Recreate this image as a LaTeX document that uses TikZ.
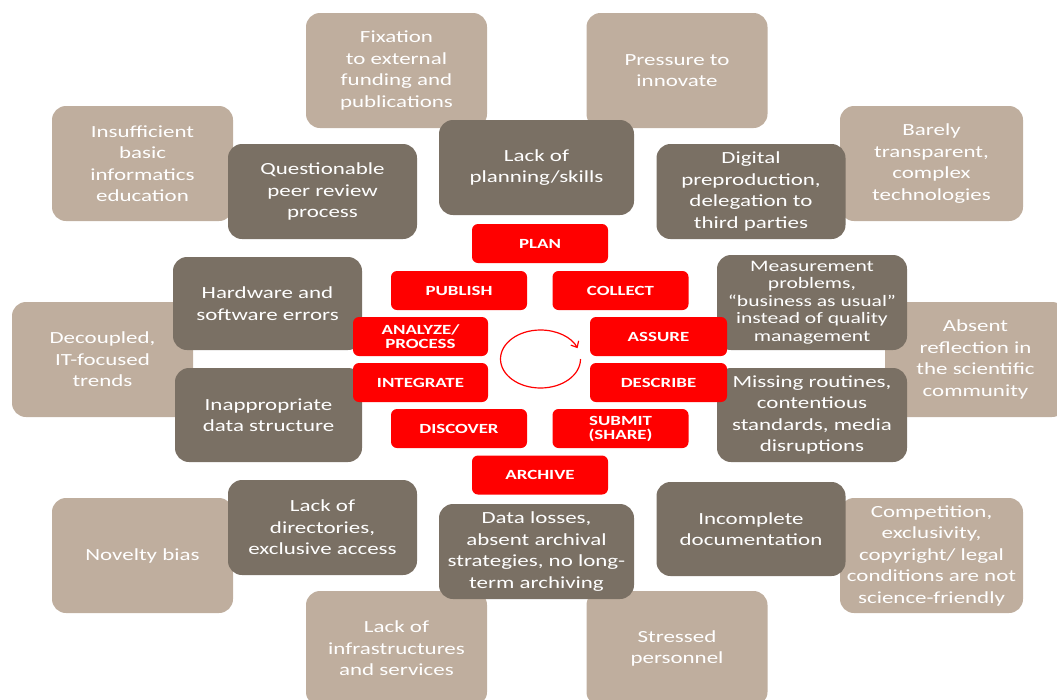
\documentclass[tikz,border=0pt]{standalone}
\usepackage{fontspec}
\setmainfont{Carlito}[FakeStretch=1.35]
\usetikzlibrary{arrows.meta}
\definecolor{tanc}{HTML}{BFAE9E}
\definecolor{darkc}{HTML}{7A7064}
\definecolor{redc}{HTML}{FF0000}
\tikzset{
  basebox/.style={rounded corners=14pt, text=white, align=center, inner sep=0pt,
    font=\fontsize{17}{21.5}\selectfont},
  tanbox/.style={basebox, fill=tanc, minimum width=181pt, minimum height=115pt},
  darkbox/.style={basebox, fill=darkc, minimum width=189pt, minimum height=95pt},
  redbox/.style={rounded corners=6pt, fill=redc, text=white, align=center, inner sep=0pt,
    minimum width=136pt, minimum height=39pt, font=\fontsize{14}{14}\selectfont\bfseries},
  cycarrow/.style={draw=redc, line width=1.2pt, -{Straight Barb[length=5pt,width=9pt]}}
}
\begin{document}
\begin{tikzpicture}[x=1pt,y=-1pt]
\useasboundingbox (0,0) rectangle (1057,699);
% outer tan boxes
\node[tanbox] (fix) at (396.5,70.5) {Fixation\\ to external\\ funding and\\ publications};
\node[tanbox] (pres) at (677,70.5) {Pressure to\\ innovate};
\node[tanbox] (insuf) at (142.5,163.5) {Insufficient\\ basic\\ informatics\\ education};
\node[tanbox, minimum width=183pt] (barely) at (931.5,163.5) {Barely\\ transparent,\\ complex\\ technologies};
\node[tanbox] (decoup) at (102.5,359.5) {Decoupled,\\ IT-focused\\ trends};
\node[tanbox] (absent) at (975.5,359.5) {Absent\\ reflection in\\ the scientific\\ community};
\node[tanbox] (novel) at (142.5,555.5) {Novelty bias};
\node[tanbox, minimum width=183pt] (compet) at (931.5,555.5) {Competition,\\ exclusivity,\\ copyright/ legal\\ conditions are not\\ science-friendly};
\node[tanbox] (infra) at (396.5,648.5) {Lack of\\ infrastructures\\ and services};
\node[tanbox] (stress) at (677,648.5) {Stressed\\ personnel};
% dark boxes
\node[darkbox] (quest) at (322.5,191.5) {Questionable\\ peer review\\ process};
\node[darkbox, minimum width=195pt] (lackplan) at (536.5,167.5) {Lack of\\ planning/skills};
\node[darkbox] (digital) at (751,191.5) {Digital\\ preproduction,\\ delegation to\\ third parties};
\node[darkbox, minimum height=93pt] (hard) at (267.5,303.5) {Hardware and\\ software errors};
\node[darkbox, minimum width=187pt, minimum height=94pt] (inapp) at (268.5,415) {Inappropriate\\ data structure};
\node[darkbox, minimum width=190pt, font=\fontsize{16}{17.5}\selectfont] (meas) at (812,302.5) {Measurement\\ problems,\\ ``business as usual''\\ instead of quality\\ management};
\node[darkbox, minimum width=190pt, minimum height=94pt] (miss) at (812,415) {Missing routines,\\ contentious\\ standards, media\\ disruptions};
\node[darkbox] (dir) at (322.5,527.5) {Lack of\\ directories,\\ exclusive access};
\node[darkbox, minimum width=195pt] (loss) at (536.5,551.5) {Data losses,\\ absent archival\\ strategies, no long-\\ term archiving};
\node[darkbox, minimum height=94pt] (incomp) at (751,529) {Incomplete\\ documentation};
% red cycle boxes
\node[redbox] (plan) at (540,243.5) {PLAN};
\node[redbox] (publish) at (459,290.5) {PUBLISH};
\node[redbox] (collect) at (620.5,290.5) {COLLECT};
\node[redbox, minimum width=135pt] (analyze) at (420.5,336.5) {ANALYZE/\\ PROCESS};
\node[redbox, minimum width=137pt] (assure) at (658.5,336.5) {ASSURE};
\node[redbox, minimum width=135pt] (integrate) at (420.5,382.5) {INTEGRATE};
\node[redbox, minimum width=137pt] (describe) at (658.5,382.5) {DESCRIBE};
\node[redbox] (discover) at (459,428.5) {DISCOVER};
\node[redbox] (submit) at (620.5,428.5) {SUBMIT\\ (SHARE)};
\node[redbox] (archive) at (540,475) {ARCHIVE};
% cycle arrow
\coordinate (cyc) at (540.5,359);
\draw[cycarrow] ([xshift=40pt]cyc) arc[start angle=0, end angle=-338, x radius=40pt, y radius=29pt];
\end{tikzpicture}
\end{document}
